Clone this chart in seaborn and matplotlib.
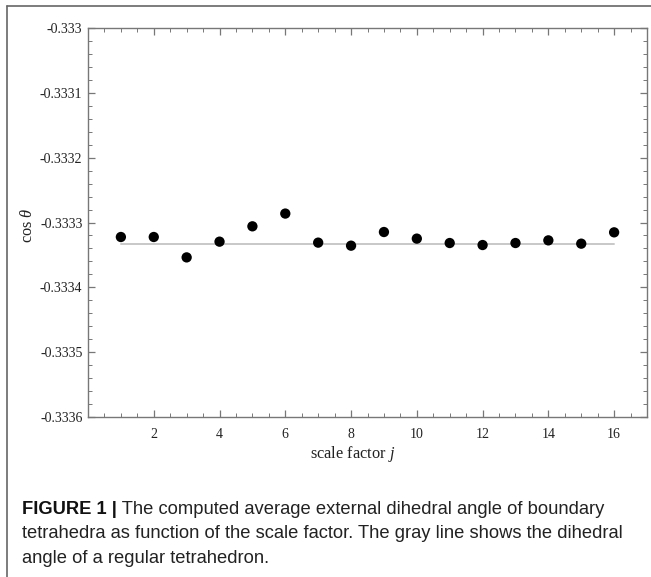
import matplotlib
matplotlib.use("Agg")
import matplotlib.pyplot as plt
import matplotlib.ticker as mticker
from matplotlib.lines import Line2D
import seaborn as sns
import pandas as pd

# ---- data ----
scale_factor = [1, 2, 3, 4, 5, 6, 7, 8, 9, 10, 11, 12, 13, 14, 15, 16]
cos_theta = [-0.3333224, -0.3333224, -0.3333539, -0.3333296, -0.3333059,
             -0.3332862, -0.3333311, -0.3333358, -0.3333147, -0.3333249,
             -0.3333317, -0.3333348, -0.3333317, -0.3333276, -0.3333327,
             -0.3333152]
regular_x = [1, 16]
regular_y = [-1 / 3, -1 / 3]
y_ticks = [-0.3336, -0.3335, -0.3334, -0.3333, -0.3332, -0.3331, -0.333]
x_ticks = [2, 4, 6, 8, 10, 12, 14, 16]

caption_bold = "FIGURE 1 |"
caption_line1 = " The computed average external dihedral angle of boundary"
caption_line2 = "tetrahedra as function of the scale factor. The gray line shows the dihedral"
caption_line3 = "angle of a regular tetrahedron."

sns.set_theme(style="ticks")
plt.rcParams["font.family"] = ["Liberation Serif", "DejaVu Serif"]
plt.rcParams["mathtext.fontset"] = "custom"
plt.rcParams["mathtext.rm"] = "Liberation Serif"
plt.rcParams["mathtext.it"] = "Liberation Serif:italic"
plt.rcParams["axes.unicode_minus"] = False

fig = plt.figure(figsize=(6.51, 5.77), dpi=100)
ax = fig.add_axes([88 / 651, 1 - 416.7 / 577, (647 - 88) / 651, (416.7 - 28.3) / 577])

df = pd.DataFrame({"j": scale_factor, "cos": cos_theta})
line_df = pd.DataFrame({"j": regular_x, "cos": regular_y})
sns.lineplot(data=line_df, x="j", y="cos", ax=ax, color="#c8c8c8", lw=1.4, zorder=1)
sns.scatterplot(data=df, x="j", y="cos", ax=ax, color="black", s=55,
                edgecolor="none", zorder=3)

ax.set_xlim(0, 17)
ax.set_ylim(-0.3336, -0.333)
ax.set_xticks(x_ticks)
ax.set_yticks(y_ticks)
ax.xaxis.set_minor_locator(mticker.MultipleLocator(0.5))
ax.yaxis.set_minor_locator(mticker.MultipleLocator(0.00002))
ax.yaxis.set_major_formatter(mticker.FuncFormatter(
    lambda v, p: f"{v:.4f}".rstrip("0")))

for s in ax.spines.values():
    s.set_visible(True)
    s.set_color("#777777")
    s.set_linewidth(1.0)

ax.tick_params(which="both", direction="in", top=True, right=True,
               color="#777777", labelcolor="#222222", labelsize=10)
ax.tick_params(which="major", length=5, width=0.9, pad=4)
ax.tick_params(which="minor", length=2.8, width=0.7)
ax.tick_params(axis="x", which="major", pad=8)

ax.set_xlabel(r"scale factor $j$", fontsize=11.8, color="#222222")
ax.set_ylabel(r"cos $\theta$", fontsize=11.8, color="#222222")
ax.xaxis.set_label_coords((353 - 88) / 559, (416.7 - 458.5) / 388.4)
ax.xaxis.label.set_va("baseline")
ax.yaxis.set_label_coords((27.5 - 88) / 559, (416.7 - 225) / 388.4)
ax.yaxis.label.set_va("center")

# figure border (top and left)
fig.add_artist(Line2D([7 / 651, 1.0], [1 - 6 / 577, 1 - 6 / 577],
                      transform=fig.transFigure, color="#666666", lw=1.2))
fig.add_artist(Line2D([7 / 651, 7 / 651], [0.0, 1 - 6 / 577],
                      transform=fig.transFigure, color="#666666", lw=1.2))

# caption
cap_font = ["Liberation Sans", "DejaVu Sans"]
cap_size = 13.2
x0 = 22 / 651
t = fig.text(x0, 1 - 514 / 577, caption_bold, family=cap_font, fontsize=cap_size,
             fontweight="bold", color="#111111", va="baseline")
renderer = fig.canvas.get_renderer()
bb = t.get_window_extent(renderer=renderer)
fig.text(bb.x1 / fig.bbox.width, 1 - 514 / 577, caption_line1, family=cap_font,
         fontsize=cap_size, color="#222222", va="baseline")
fig.text(x0, 1 - 538.5 / 577, caption_line2, family=cap_font, fontsize=cap_size,
         color="#222222", va="baseline")
fig.text(x0, 1 - 563 / 577, caption_line3, family=cap_font, fontsize=cap_size,
         color="#222222", va="baseline")

fig.savefig("out.png", dpi=100)
